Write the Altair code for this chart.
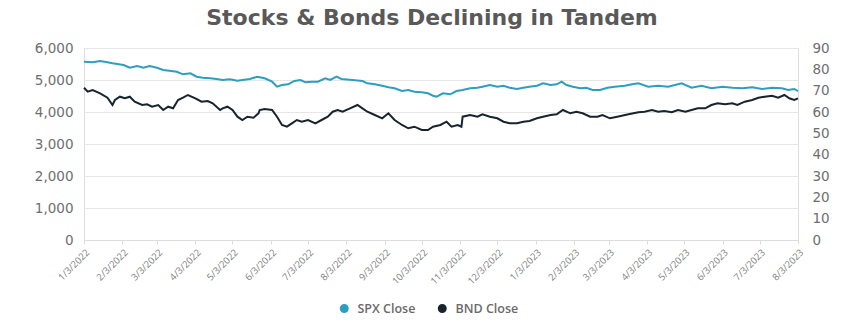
import altair as alt
import pandas as pd

TITLE = "Stocks & Bonds Declining in Tandem"
SERIES = ["SPX Close", "BND Close"]
COLORS = ["#2e9ec0", "#17242e"]

spx_dates = [
    "2022-01-03", "2022-01-10", "2022-01-16", "2022-01-22", "2022-01-26", "2022-02-04", "2022-02-09",
    "2022-02-15", "2022-02-20", "2022-02-25", "2022-03-03", "2022-03-08", "2022-03-13", "2022-03-19",
    "2022-03-24", "2022-03-30", "2022-04-04", "2022-04-09", "2022-04-15", "2022-04-20", "2022-04-25",
    "2022-05-01", "2022-05-07", "2022-05-11", "2022-05-17", "2022-05-23", "2022-05-29", "2022-06-04",
    "2022-06-08", "2022-06-12", "2022-06-17", "2022-06-22", "2022-06-27", "2022-07-01", "2022-07-06",
    "2022-07-11", "2022-07-17", "2022-07-21", "2022-07-26", "2022-07-30", "2022-08-08", "2022-08-16",
    "2022-08-20", "2022-08-26", "2022-09-01", "2022-09-06", "2022-09-11", "2022-09-17", "2022-09-22",
    "2022-09-27", "2022-10-03", "2022-10-08", "2022-10-12", "2022-10-15", "2022-10-20", "2022-10-26",
    "2022-10-31", "2022-11-05", "2022-11-11", "2022-11-17", "2022-11-21", "2022-11-27", "2022-12-03",
    "2022-12-08", "2022-12-13", "2022-12-19", "2022-12-24", "2022-12-29", "2023-01-04", "2023-01-09",
    "2023-01-15", "2023-01-20", "2023-01-24", "2023-01-28", "2023-02-02", "2023-02-08", "2023-02-13",
    "2023-02-18", "2023-02-24", "2023-03-02", "2023-03-08", "2023-03-16", "2023-03-22", "2023-03-27",
    "2023-04-04", "2023-04-12", "2023-04-20", "2023-05-01", "2023-05-09", "2023-05-17", "2023-05-25",
    "2023-06-03", "2023-06-11", "2023-06-19", "2023-06-27", "2023-07-05", "2023-07-13", "2023-07-21",
    "2023-07-26", "2023-07-31", "2023-08-03",
]
spx_close = [
    5572, 5553, 5594, 5553, 5522, 5469, 5384, 5438, 5384, 5438, 5384, 5313, 5291, 5259,
    5178, 5209, 5103, 5072, 5053, 5031, 5000, 5022, 4978, 5000, 5031, 5103, 5053, 4947,
    4791, 4844, 4866, 4969, 5000, 4928, 4947, 4947, 5053, 5000, 5103, 5031, 5000, 4969,
    4897, 4866, 4822, 4772, 4741, 4656, 4688, 4634, 4616, 4584, 4509, 4478, 4584, 4553,
    4656, 4688, 4741, 4759, 4791, 4844, 4791, 4822, 4759, 4719, 4759, 4791, 4822, 4897,
    4844, 4866, 4947, 4844, 4791, 4741, 4759, 4688, 4688, 4759, 4791, 4822, 4866, 4897,
    4791, 4822, 4791, 4897, 4759, 4822, 4741, 4791, 4759, 4741, 4772, 4719, 4759, 4741,
    4688, 4719, 4656,
]

bnd_dates = [
    "2022-01-03", "2022-01-06", "2022-01-10", "2022-01-16", "2022-01-22", "2022-01-26", "2022-01-28",
    "2022-02-01", "2022-02-05", "2022-02-09", "2022-02-13", "2022-02-19", "2022-02-23", "2022-02-27",
    "2022-03-04", "2022-03-08", "2022-03-12", "2022-03-16", "2022-03-20", "2022-03-24", "2022-03-28",
    "2022-04-03", "2022-04-08", "2022-04-13", "2022-04-17", "2022-04-23", "2022-04-25", "2022-04-29",
    "2022-05-03", "2022-05-07", "2022-05-11", "2022-05-15", "2022-05-20", "2022-05-24", "2022-05-25",
    "2022-05-29", "2022-06-04", "2022-06-08", "2022-06-12", "2022-06-16", "2022-06-20", "2022-06-24",
    "2022-06-28", "2022-07-03", "2022-07-09", "2022-07-14", "2022-07-19", "2022-07-23", "2022-07-27",
    "2022-07-31", "2022-08-06", "2022-08-12", "2022-08-16", "2022-08-20", "2022-08-26", "2022-09-01",
    "2022-09-06", "2022-09-11", "2022-09-17", "2022-09-22", "2022-09-27", "2022-10-03", "2022-10-08",
    "2022-10-12", "2022-10-18", "2022-10-23", "2022-10-27", "2022-11-01", "2022-11-04", "2022-11-05",
    "2022-11-11", "2022-11-17", "2022-11-21", "2022-11-27", "2022-12-03", "2022-12-08", "2022-12-13",
    "2022-12-19", "2022-12-24", "2022-12-29", "2023-01-04", "2023-01-09", "2023-01-15", "2023-01-20",
    "2023-01-25", "2023-01-31", "2023-02-05", "2023-02-10", "2023-02-16", "2023-02-22", "2023-02-26",
    "2023-03-04", "2023-03-10", "2023-03-19", "2023-03-27", "2023-04-01", "2023-04-07", "2023-04-12",
    "2023-04-17", "2023-04-23", "2023-04-28", "2023-05-04", "2023-05-09", "2023-05-14", "2023-05-20",
    "2023-05-25", "2023-05-30", "2023-06-05", "2023-06-11", "2023-06-15", "2023-06-21", "2023-06-27",
    "2023-07-02", "2023-07-07", "2023-07-13", "2023-07-18", "2023-07-23", "2023-07-27", "2023-07-31",
    "2023-08-03",
]
bnd_close = [
    71.39, 69.52, 70.31, 68.77, 66.70, 63.28, 65.63, 67.17, 66.42, 67.17, 64.83, 63.28, 63.61, 62.48,
    63.28, 60.94, 62.48, 61.73, 65.63, 66.70, 67.97, 66.42, 64.83, 65.16, 64.08, 60.94, 61.73, 62.48,
    60.94, 57.80, 56.25, 57.80, 57.33, 59.39, 60.94, 61.41, 60.94, 57.80, 53.91, 53.11, 54.70, 56.25,
    55.45, 56.25, 54.70, 56.25, 57.80, 60.14, 60.94, 60.14, 61.73, 63.28, 61.73, 60.14, 58.59, 57.05,
    59.39, 56.25, 53.91, 52.36, 53.11, 51.56, 51.56, 53.11, 53.91, 55.45, 53.11, 53.91, 53.11, 57.80,
    58.59, 57.80, 58.92, 57.80, 57.05, 55.45, 54.70, 54.70, 55.45, 55.78, 57.05, 57.80, 58.59, 58.92,
    60.94, 59.39, 60.14, 59.39, 57.80, 57.80, 58.59, 57.05, 57.80, 58.92, 59.86, 60.14, 60.94, 60.14,
    60.47, 59.86, 60.94, 60.14, 60.94, 61.73, 61.73, 63.28, 64.08, 63.61, 64.08, 63.28, 64.83, 65.63,
    66.70, 67.17, 67.64, 66.70, 67.97, 66.42, 65.63, 66.42,
]

x_tick_labels = [
    "1/3/2022", "2/3/2022", "3/3/2022", "4/3/2022", "5/3/2022", "6/3/2022", "7/3/2022",
    "8/3/2022", "9/3/2022", "10/3/2022", "11/3/2022", "12/3/2022", "1/3/2023", "2/3/2023",
    "3/3/2023", "4/3/2023", "5/3/2023", "6/3/2023", "7/3/2023", "8/3/2023",
]
left_ticks = [0, 1000, 2000, 3000, 4000, 5000, 6000]
right_ticks = [0, 10, 20, 30, 40, 50, 60, 70, 80, 90]


def to_dt(label):
    m, d, y = (int(p) for p in label.split("/"))
    return alt.DateTime(year=y, month=m, date=d, utc=True)


tick_values = [to_dt(t) for t in x_tick_labels]

df = pd.concat([
    pd.DataFrame({"date": spx_dates, "value": spx_close, "series": SERIES[0]}),
    pd.DataFrame({"date": bnd_dates, "value": bnd_close, "series": SERIES[1]}),
])

FONT = "Open Sans"
AXIS_FONT = "DejaVu Sans"
LABEL_COLOR = "#6e6e6e"

x_enc = alt.X(
    "date:T",
    scale=alt.Scale(type="utc", domain=[tick_values[0], tick_values[-1]]),
    axis=alt.Axis(
        values=tick_values,
        labelExpr="utcFormat(datum.value, '%-m/%-d/%Y')",
        labelAngle=-45,
        labelFontSize=9.5, labelColor="#808080", labelFont=FONT, grid=False,
        domainColor="#dcdcdc", tickColor="#dcdcdc", tickSize=4, labelPadding=3,
        labelOverlap=False, labelFlush=False,
    ),
    title=None,
)

color_enc = alt.Color(
    "series:N",
    scale=alt.Scale(domain=SERIES, range=COLORS),
    legend=alt.Legend(
        title=None, orient="none", direction="horizontal", legendX=254, legendY=254,
        symbolType="circle", symbolSize=20, symbolStrokeWidth=4.5, labelFont=FONT,
        labelFontSize=12.5, labelFontWeight=600, labelColor="#6a6a6a", columnPadding=15,
        labelOffset=7,
    ),
)

spx = alt.Chart(df).transform_filter(alt.datum.series == SERIES[0]).mark_line(
    strokeWidth=2
).encode(
    x=x_enc,
    y=alt.Y(
        "value:Q",
        scale=alt.Scale(domain=[0, 6000], nice=False),
        axis=alt.Axis(
            orient="left", values=left_ticks, format=",.0f", grid=True, gridColor="#e6e6e6",
            domain=False, ticks=False, labelFontSize=13.5, labelColor=LABEL_COLOR,
            labelFont=AXIS_FONT, labelPadding=11,
        ),
        title=None,
    ),
    color=color_enc,
)

bnd = alt.Chart(df).transform_filter(alt.datum.series == SERIES[1]).mark_line(
    strokeWidth=2
).encode(
    x=x_enc,
    y=alt.Y(
        "value:Q",
        scale=alt.Scale(domain=[0, 90], nice=False),
        axis=alt.Axis(
            orient="right", values=right_ticks, format=".0f", grid=False, domain=False,
            ticks=False, labelFontSize=13.5, labelColor=LABEL_COLOR, labelFont=AXIS_FONT,
            labelPadding=14,
        ),
        title=None,
    ),
    color=color_enc,
)

chart = alt.layer(spx, bnd).resolve_scale(y="independent").properties(
    width=714,
    height=192,
    title=alt.TitleParams(
        TITLE, font="DejaVu Sans", fontSize=22, fontWeight="bold", color="#595959",
        anchor="middle", dx=-9, offset=11,
    ),
    autosize=alt.AutoSizeParams(type="none"),
    padding={"left": 84, "top": 48, "right": 54, "bottom": 83},
).configure_view(stroke=None).configure(background="white")

chart.save("out.html", embed_options={"renderer": "svg", "actions": False})
